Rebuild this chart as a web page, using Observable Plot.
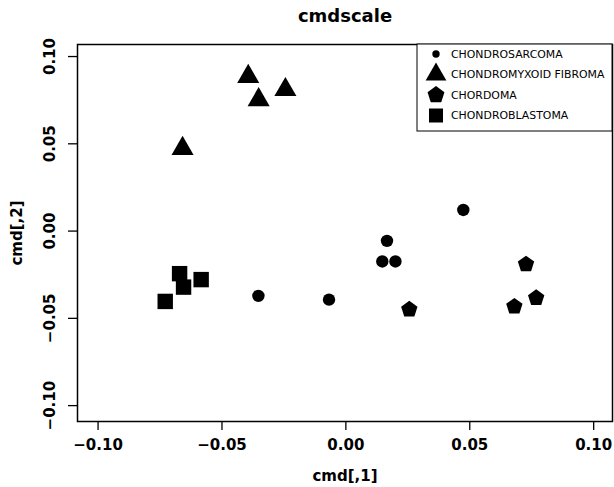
<!DOCTYPE html>
<html>
<head>
<meta charset="utf-8">
<script src="https://cdn.jsdelivr.net/npm/d3@7"></script>
<script src="https://cdn.jsdelivr.net/npm/@observablehq/plot@0.6"></script>
<style>
  html, body { margin: 0; padding: 0; background: #fff; }
  #chart svg { display: block; }
</style>
</head>
<body>
<div id="chart"></div>
<script>
// ---- data ----
const seriesNames = ["CHONDROSARCOMA", "CHONDROMYXOID FIBROMA", "CHORDOMA", "CHONDROBLASTOMA"];

const chondrosarcomaX = [-0.0353, 0.0474, 0.0166, 0.0147, 0.0200, -0.0068];
const chondrosarcomaY = [-0.0371, 0.0121, -0.0056, -0.0174, -0.0174, -0.0393];

const chondromyxoidX = [-0.0394, -0.0352, -0.0244, -0.0659];
const chondromyxoidY = [0.0885, 0.0752, 0.0810, 0.0473];

const chordomaX = [0.0727, 0.0768, 0.0680, 0.0256];
const chordomaY = [-0.0190, -0.0383, -0.0432, -0.0449];

const chondroblastomaX = [-0.0671, -0.0655, -0.0584, -0.0729];
const chondroblastomaY = [-0.0244, -0.0321, -0.0278, -0.0403];

const xTicks = [-0.10, -0.05, 0.00, 0.05, 0.10];
const yTicks = [-0.10, -0.05, 0.00, 0.05, 0.10];
const titleText = "cmdscale";
const xLabel = "cmd[,1]";
const yLabel = "cmd[,2]";

// ---- build tables ----
const zip = (xs, ys) => xs.map((x, i) => ({x, y: ys[i]}));
const csData = zip(chondrosarcomaX, chondrosarcomaY);
const cmfData = zip(chondromyxoidX, chondromyxoidY);
const chData = zip(chordomaX, chordomaY);
const cbData = zip(chondroblastomaX, chondroblastomaY);

// pentagon symbol (point up); radius = sqrt(size/PI)
const pentagon = {
  draw(context, size) {
    const R = Math.sqrt(size / Math.PI);
    for (let k = 0; k < 5; ++k) {
      const a = -Math.PI / 2 + k * 2 * Math.PI / 5;
      const px = R * Math.cos(a), py = R * Math.sin(a);
      if (k === 0) context.moveTo(px, py); else context.lineTo(px, py);
    }
    context.closePath();
  }
};

const fmt = d3.format(".2f");
const FONT = "DejaVu Sans";

const plot = Plot.plot({
  width: 614,
  height: 487,
  marginTop: 44,
  marginRight: 2,
  marginBottom: 66,
  marginLeft: 77,
  style: {fontFamily: FONT, background: "#fff", color: "#000"},
  x: {domain: [-0.1083, 0.1076]},
  y: {domain: [-0.1091, 0.1069]},
  marks: [
    Plot.axisX({ticks: xTicks, tickSize: 9, tickPadding: 9, tickFormat: fmt,
      fontSize: 15, fontWeight: "bold", strokeWidth: 1.3,
      label: xLabel, labelAnchor: "center", labelArrow: "none", labelOffset: 59}),
    Plot.axisY({ticks: yTicks, tickSize: 9, tickPadding: 14, tickFormat: fmt, tickRotate: -90,
      fontSize: 15, fontWeight: "bold", strokeWidth: 1.3,
      label: yLabel, labelAnchor: "center", labelArrow: "none", labelOffset: 66}),
    Plot.frame({stroke: "#000", strokeWidth: 1.5}),
    Plot.dot(csData, {x: "x", y: "y", symbol: "circle", r: 6.2, fill: "#000", stroke: "none"}),
    Plot.dot(cmfData, {x: "x", y: "y", symbol: "triangle", r: 8.2, fill: "#000", stroke: "none"}),
    Plot.dot(chData, {x: "x", y: "y", symbol: pentagon, r: 8.6, fill: "#000", stroke: "none"}),
    Plot.dot(cbData, {x: "x", y: "y", symbol: "square", r: 8.7, fill: "#000", stroke: "none"}),
    Plot.text([titleText], {frameAnchor: "top", dy: -23, lineAnchor: "bottom",
      fontSize: 18, fontWeight: "bold", fill: "#000"})
  ]
});

// ---- legend (top-right, inside plot box) ----
const svg = d3.select(plot);
const legX0 = 417, legY0 = 44, legX1 = 612, legY1 = 131;
const lg = svg.append("g").attr("class", "legend").attr("text-anchor", "start");
lg.append("rect").attr("x", legX0).attr("y", legY0)
  .attr("width", legX1 - legX0).attr("height", legY1 - legY0)
  .attr("fill", "#fff").attr("stroke", "#000").attr("stroke-width", 1);
const legSymbols = [
  {type: d3.symbolCircle, size: Math.PI * 3.7 * 3.7},
  {type: d3.symbolTriangle, size: 186},
  {type: pentagon, size: Math.PI * 8.9 * 8.9},
  {type: d3.symbolSquare, size: 196}
];
const rowY = [54, 74.5, 95, 115.5];
seriesNames.forEach((name, i) => {
  lg.append("path")
    .attr("transform", `translate(436,${rowY[i]})`)
    .attr("d", d3.symbol(legSymbols[i].type, legSymbols[i].size)())
    .attr("fill", "#000");
  lg.append("text")
    .attr("x", 451).attr("y", rowY[i]).attr("dy", "0.36em")
    .attr("text-anchor", "start")
    .attr("font-family", FONT).attr("font-size", 10.9).attr("fill", "#000")
    .text(name);
});

document.getElementById("chart").appendChild(plot);
</script>
</body>
</html>
